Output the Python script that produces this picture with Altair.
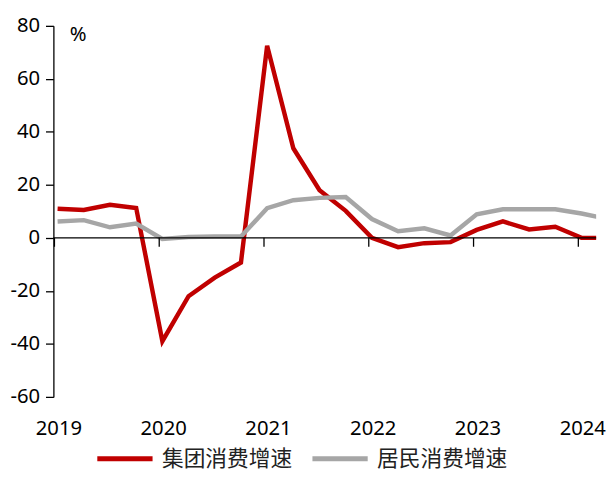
import altair as alt
import pandas as pd

quarters = ["2019Q1", "2019Q2", "2019Q3", "2019Q4",
            "2020Q1", "2020Q2", "2020Q3", "2020Q4",
            "2021Q1", "2021Q2", "2021Q3", "2021Q4",
            "2022Q1", "2022Q2", "2022Q3", "2022Q4",
            "2023Q1", "2023Q2", "2023Q3", "2023Q4",
            "2024Q1", "2024Q2"]
group_growth = [11.0, 10.5, 12.5, 11.3,
                -39.0, -22.0, -15.0, -9.3,
                72.5, 33.8, 18.0, 10.2,
                0.0, -3.5, -2.0, -1.6,
                3.0, 6.2, 3.2, 4.2,
                0.0, 0.0]
resident_growth = [6.2, 6.7, 4.0, 5.4,
                   -0.4, 0.3, 0.5, 0.5,
                   11.2, 14.2, 15.1, 15.4,
                   7.1, 2.5, 3.6, 0.9,
                   8.9, 10.8, 10.8, 10.8,
                   9.2, 7.1]
year_ticks = [2019, 2020, 2021, 2022, 2023, 2024]
y_ticks = [-60, -40, -20, 0, 20, 40, 60, 80]
series_names = ["集团消费增速", "居民消费增速"]
series_colors = ["#C00000", "#A6A6A6"]


def qpos(q):
    return int(q[:4]) + (int(q[-1]) - 1) * 0.25 + 0.03


rows = []
for q, g, r in zip(quarters, group_growth, resident_growth):
    rows.append({"t": qpos(q), "v": g, "s": series_names[0]})
    rows.append({"t": qpos(q), "v": r, "s": series_names[1]})
df = pd.DataFrame(rows)

FONT = "Noto Sans"
xscale = alt.Scale(domain=[2018.99, 2024.17], nice=False, zero=False)
yscale = alt.Scale(domain=[-60, 80], nice=False)
color = alt.Color(
    "s:N",
    scale=alt.Scale(domain=series_names, range=series_colors),
    legend=alt.Legend(
        title=None, orient="none", legendX=42, legendY=408,
        direction="horizontal", symbolType="stroke", symbolSize=3136,
        symbolStrokeWidth=5, labelFontSize=22, labelFont="Noto Sans CJK SC",
        labelColor="#222222", labelOffset=7, columnPadding=9, labelLimit=300,
    ),
)

x_enc = alt.X(
    "t:Q", scale=xscale,
    axis=alt.Axis(values=year_ticks, format="d", domain=False, ticks=False,
                  labelPadding=22, labelOffset=4, labelFontSize=20.5,
                  labelFont=FONT, labelColor="black", grid=False, title=None,
                  labelFlush=False),
)
y_enc = alt.Y(
    "v:Q", scale=yscale,
    axis=alt.Axis(values=y_ticks, grid=False, domainColor="black",
                  domainWidth=1.3, tickColor="black", tickWidth=1.3,
                  tickSize=8, labelPadding=6, labelFontSize=20.5,
                  labelFont=FONT, labelColor="black",
                  labelExpr="'' + datum.value",
                  title="%", titleAngle=0, titleX=16, titleY=-1,
                  titleAlign="left", titleBaseline="top",
                  titleFontWeight="normal", titleFontSize=20.5,
                  titleFont=FONT, titleColor="black"),
)

base = alt.Chart(df)
red = base.transform_filter(alt.datum.s == series_names[0]).mark_line(
    strokeWidth=4.5, clip=True).encode(x=x_enc, y=y_enc, color=color)
grey = base.transform_filter(alt.datum.s == series_names[1]).mark_line(
    strokeWidth=4.5, clip=True).encode(x=x_enc, y=y_enc, color=color)

zero = alt.Chart(pd.DataFrame({"y": [0]})).mark_rule(
    color="black", strokeWidth=1.3).encode(y=alt.Y("y:Q", scale=yscale))
ticks = alt.Chart(pd.DataFrame({"t": year_ticks})).mark_rule(
    color="black", strokeWidth=1.3, y2Offset=9).encode(
    x=alt.X("t:Q", scale=xscale), y=alt.datum(0), y2=alt.datum(0))

chart = alt.layer(red, grey, zero, ticks).properties(
    width=550, height=376,
    autosize=alt.AutoSizeParams(type="none"),
    padding={"left": 46, "top": 15, "right": 11, "bottom": 71},
    background="white",
).configure_view(stroke=None)

chart.save("out.html", embed_options={"renderer": "svg", "actions": False})
